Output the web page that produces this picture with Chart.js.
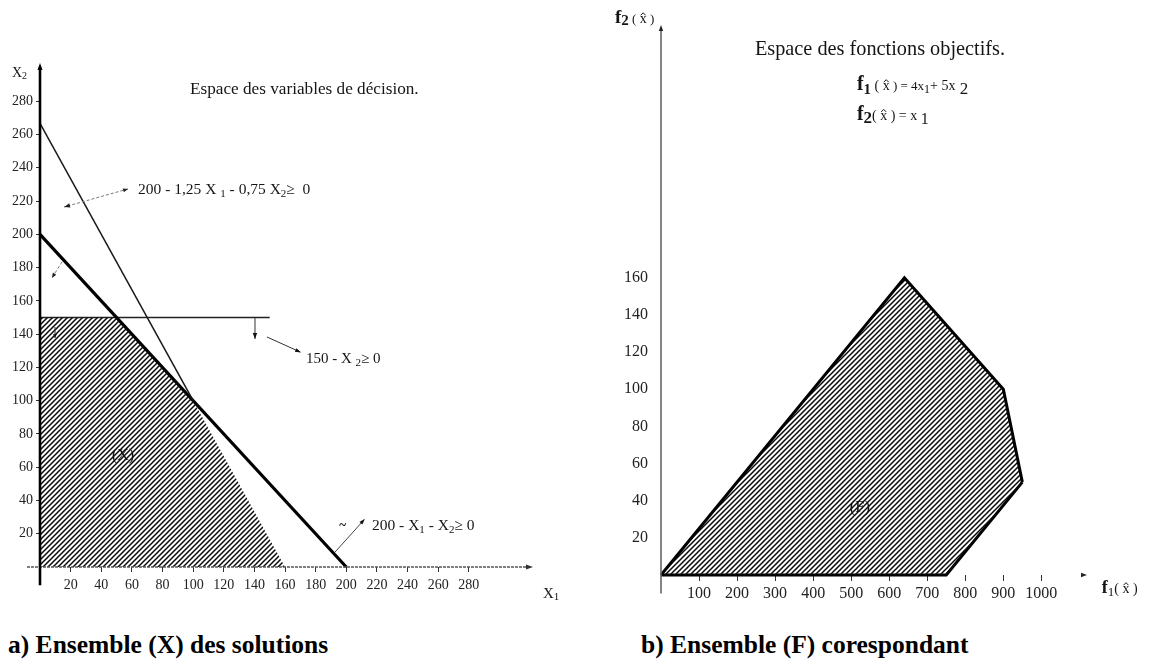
<!DOCTYPE html>
<html><head><meta charset="utf-8">
<script src="https://cdn.jsdelivr.net/npm/chart.js@4.4.1/dist/chart.umd.min.js"></script>
<style>
html,body{margin:0;padding:0;background:#fff;width:1149px;height:666px;overflow:hidden;}
#c1{position:absolute;left:0;top:0;}
#c2{position:absolute;left:570px;top:0;}
.cap{position:absolute;top:632px;font-family:"Liberation Serif","Times New Roman",serif;font-weight:bold;font-size:25.5px;color:#000;line-height:1;white-space:nowrap;}
</style></head><body>
<canvas id="c1" width="560" height="615"></canvas>
<canvas id="c2" width="579" height="615"></canvas>
<div class="cap" style="left:8px">a) Ensemble (X) des solutions</div>
<div class="cap" style="left:641px">b) Ensemble (F) corespondant</div>
<script>
// ---------- data: a) decision space ----------
const xTicksA = [20,40,60,80,100,120,140,160,180,200,220,240,260,280];
const yTicksA = [20,40,60,80,100,120,140,160,180,200,220,240,260,280];
const regionX1 = [0, 50, 100, 160];      // hatched set (X), upper boundary
const regionX2 = [150, 150, 100, 0];
const con1X1 = [0, 100];                  // 200 - 1,25 X1 - 0,75 X2 = 0 (drawn part)
const con1X2 = [266.7, 100];
const con2X1 = [0, 200];                  // 200 - X1 - X2 = 0
const con2X2 = [200, 0];
const con3X1 = [0, 150];                  // 150 - X2 = 0
const con3X2 = [150, 150];

// ---------- data: b) objective space ----------
const xTicksB = [100,200,300,400,500,600,700,800,900,1000];
const yTicksB = [20,40,60,80,100,120,140,160];
const fUpperF1 = [0, 640, 900, 950];      // set (F), upper boundary
const fUpperF2 = [0, 160, 100, 50];
const fLowerF1 = [0, 750, 950];           // set (F), lower boundary
const fLowerF2 = [0, 0, 50];

const SERIF = '"Liberation Serif","Times New Roman",serif';
const INK = '#151515';

function pts(xs, ys){ return xs.map((v,i)=>({x:v, y:ys[i]})); }

function hatch(){
  const s = 5, c = document.createElement('canvas');
  c.width = s; c.height = s;
  const g = c.getContext('2d');
  g.strokeStyle = '#0a0a0a'; g.lineWidth = 1.5;
  g.beginPath();
  g.moveTo(0, s); g.lineTo(s, 0);
  g.moveTo(-s/2, s/2); g.lineTo(s/2, -s/2);
  g.moveTo(s/2, s*1.5); g.lineTo(s*1.5, s/2);
  g.stroke();
  return g.createPattern(c, 'repeat');
}

function rich(ctx, x, y, parts, color){
  let cx = x;
  ctx.fillStyle = color || INK; ctx.textAlign = 'left'; ctx.textBaseline = 'alphabetic';
  for (const p of parts){
    ctx.font = (p.b ? 'bold ' : '') + p.s + 'px ' + SERIF;
    const yy = y + (p.dy || 0);
    ctx.fillText(p.t, cx, yy);
    const w = ctx.measureText(p.t).width;
    if (p.hat){
      ctx.save(); ctx.strokeStyle = color || INK; ctx.lineWidth = 1;
      const mx = cx + w/2;
      ctx.beginPath();
      ctx.moveTo(mx-2.5, yy-p.s*0.56); ctx.lineTo(mx, yy-p.s*0.74); ctx.lineTo(mx+2.5, yy-p.s*0.56);
      ctx.stroke(); ctx.restore();
    }
    cx += w;
  }
  return cx - x;
}
function head(ctx, x1, y1, x2, y2, len, wid){
  const a = Math.atan2(y2-y1, x2-x1), c = Math.cos(a), s = Math.sin(a);
  ctx.beginPath(); ctx.moveTo(x2, y2);
  ctx.lineTo(x2-len*c+wid*s, y2-len*s-wid*c);
  ctx.lineTo(x2-len*c-wid*s, y2-len*s+wid*c);
  ctx.closePath(); ctx.fill();
}
function seg(ctx, x1, y1, x2, y2){ ctx.beginPath(); ctx.moveTo(x1,y1); ctx.lineTo(x2,y2); ctx.stroke(); }

const annA = {
  id: 'annA',
  afterDraw(chart){
    const {ctx, scales:{x, y}} = chart;
    const X = v => x.getPixelForValue(v), Y = v => y.getPixelForValue(v);
    ctx.save();
    // axes
    ctx.strokeStyle = '#555'; ctx.lineWidth = 1.3; ctx.setLineDash([3,1]);
    seg(ctx, X(-8.5), Y(0), X(320), Y(0));
    ctx.setLineDash([]);
    ctx.fillStyle = '#333'; head(ctx, X(300), Y(0), X(320)+3, Y(0), 7, 2.5);
    ctx.strokeStyle = '#000'; ctx.lineWidth = 2.6;
    seg(ctx, X(0), Y(-11), X(0), Y(300));
    ctx.fillStyle = '#000'; head(ctx, X(0), Y(280), X(0), Y(300)-5, 7, 2.5);
    // axis names
    rich(ctx, X(-18.3), Y(294.6), [{t:'X', s:14}, {t:'2', s:10, dy:2}]);
    rich(ctx, X(328.5), Y(-18.6), [{t:'X', s:15}, {t:'1', s:11, dy:2}]);
    // title
    rich(ctx, X(98), Y(284.4), [{t:'Espace des variables de décision.', s:17.2}]);
    // constraint 1 label + dashed double arrow
    rich(ctx, X(64), Y(224.3), [{t:'200 - 1,25 X ', s:15.5}, {t:'1', s:11, dy:3}, {t:' - 0,75 X', s:15.5}, {t:'2', s:11, dy:3}, {t:'≥  0', s:15.5}]);
    ctx.strokeStyle = '#777'; ctx.fillStyle = '#222'; ctx.lineWidth = 1; ctx.setLineDash([3,2]);
    seg(ctx, X(57.5), Y(227.3), X(15.7), Y(216.4));
    seg(ctx, X(14.4), Y(183.4), X(7.8), Y(173.8));
    ctx.setLineDash([]);
    head(ctx, X(50), Y(225.3), X(57.5), Y(227.3), 5, 2);
    head(ctx, X(25), Y(218.8), X(15.7), Y(216.4), 6, 2.2);
    head(ctx, X(12), Y(180), X(7.8), Y(173.8), 5, 2);
    // constraint 3 label + arrows
    rich(ctx, X(173.7), Y(122.7), [{t:'150 - X ', s:15}, {t:'2', s:11, dy:3}, {t:'≥ 0', s:15}]);
    ctx.strokeStyle = '#333'; ctx.fillStyle = '#111'; ctx.lineWidth = 1;
    seg(ctx, X(148.2), Y(138.3), X(169.8), Y(129.3));
    head(ctx, X(148.2), Y(138.3), X(170.5), Y(129), 6, 2);
    seg(ctx, X(140.4), Y(150), X(140.4), Y(137.1));
    head(ctx, X(140.4), Y(150), X(140.4), Y(137.1), 6, 2.2);
    seg(ctx, X(9.8), Y(144.3), X(9.8), Y(137.7));
    head(ctx, X(9.8), Y(144.3), X(9.8), Y(137.7), 4, 1.8);
    // constraint 2 label + arrow
    rich(ctx, X(216.8), Y(22.2), [{t:'200 - X', s:15.5}, {t:'1', s:11, dy:3}, {t:' - X', s:15.5}, {t:'2', s:11, dy:3}, {t:'≥ 0', s:15.5}]);
    ctx.strokeStyle = '#444';
    seg(ctx, X(192.7), Y(9.0), X(211.6), Y(28.3));
    head(ctx, X(192.7), Y(9.0), X(212.2), Y(29), 6, 2);
    rich(ctx, X(195.5), Y(23), [{t:'~', s:13, b:true}]);
    // region label
    ctx.font = '16px ' + SERIF; ctx.textAlign = 'center'; ctx.fillStyle = '#111';
    ctx.fillText('(X)', X(54.2), Y(67.3) + 5);
    ctx.restore();
  }
};

const annB = {
  id: 'annB',
  afterDraw(chart){
    const {ctx, scales:{x, y}} = chart;
    const X = v => x.getPixelForValue(v), Y = v => y.getPixelForValue(v);
    ctx.save();
    ctx.strokeStyle = '#666'; ctx.lineWidth = 1.6;
    seg(ctx, X(0), Y(-10), X(0), Y(293));
    ctx.fillStyle = '#222';
    head(ctx, X(0), Y(280), X(0), Y(296), 6, 2.2);
    head(ctx, X(1100), Y(0), X(1120), Y(0), 6, 2.2);
    rich(ctx, X(-121), Y(297), [{t:'f', s:19, b:true}, {t:'2', s:15, b:true, dy:2}, {t:' ( ', s:13}, {t:'x', s:14, hat:true}, {t:' )', s:13}]);
    rich(ctx, X(247), Y(279.8), [{t:'Espace des fonctions objectifs.', s:20.3}]);
    rich(ctx, X(515), Y(261), [{t:'f', s:20, b:true}, {t:'1', s:15, b:true, dy:4}, {t:' ( ', s:14}, {t:'x', s:14, hat:true}, {t:' ) = 4x', s:13}, {t:'1', s:12, dy:3}, {t:'+ 5x', s:14}, {t:' 2', s:17, dy:4}]);
    rich(ctx, X(515), Y(245), [{t:'f', s:20, b:true}, {t:'2', s:17, b:true, dy:3}, {t:'( ', s:14}, {t:'x', s:14, hat:true}, {t:' ) = x ', s:14}, {t:'1', s:16, dy:4}]);
    rich(ctx, X(1159), Y(-9.7), [{t:'f', s:18, b:true}, {t:'1', s:13, dy:3}, {t:'( ', s:14}, {t:'x', s:14, hat:true}, {t:' )', s:14}]);
    ctx.font = '16.5px ' + SERIF; ctx.textAlign = 'center'; ctx.fillStyle = '#111';
    ctx.fillText('(F)', X(523), Y(36.6) + 5);
    ctx.restore();
  }
};

const tickFontA = {family: SERIF, size: 14};
const tickFontB = {family: SERIF, size: 16};
const plain = v => String(v);

new Chart(document.getElementById('c1'), {
  type: 'line',
  data: { datasets: [
    {data: pts(regionX1, regionX2), fill: 'origin', backgroundColor: hatch(), borderWidth: 0, pointRadius: 0},
    {data: pts(con1X1, con1X2), fill: false, borderColor: '#1a1a1a', borderWidth: 1.5, pointRadius: 0, clip: false},
    {data: pts(con2X1, con2X2), fill: false, borderColor: '#000', borderWidth: 3.2, pointRadius: 0, clip: false},
    {data: pts(con3X1, con3X2), fill: false, borderColor: '#222', borderWidth: 1.5, pointRadius: 0, clip: false}
  ]},
  options: {
    responsive: false, animation: false, events: [],
    layout: {padding: {top: 68, right: 30, left: 0, bottom: 0}},
    plugins: {legend: {display: false}, tooltip: {enabled: false}},
    scales: {
      x: {type: 'linear', min: 0, max: 320,
          afterBuildTicks: s => { s.ticks = xTicksA.map(v => ({value: v})); },
          afterFit: s => { s.height = 48; },
          grid: {drawOnChartArea: false, drawTicks: true, tickLength: 5, color: '#333'},
          border: {display: false},
          ticks: {font: tickFontA, color: '#222', padding: 5, maxRotation: 0, autoSkip: false, callback: plain}},
      y: {type: 'linear', min: 0, max: 300,
          afterBuildTicks: s => { s.ticks = yTicksA.map(v => ({value: v})); },
          afterFit: s => { s.width = 40; },
          grid: {drawOnChartArea: false, drawTicks: true, tickLength: 4, color: '#333'},
          border: {display: false},
          ticks: {font: tickFontA, color: '#222', padding: 3, autoSkip: false, callback: plain}}
    }
  },
  plugins: [annA]
});

new Chart(document.getElementById('c2'), {
  type: 'line',
  data: { datasets: [
    {data: pts(fUpperF1, fUpperF2), fill: '+1', backgroundColor: hatch(), borderColor: '#000', borderWidth: 3, pointRadius: 0, clip: false},
    {data: pts(fLowerF1, fLowerF2), fill: false, borderColor: '#000', borderWidth: 3, pointRadius: 0, clip: false}
  ]},
  options: {
    responsive: false, animation: false, events: [],
    layout: {padding: {top: 25, right: 62, left: 0, bottom: 0}},
    plugins: {legend: {display: false}, tooltip: {enabled: false}},
    scales: {
      x: {type: 'linear', min: 0, max: 1120,
          afterBuildTicks: s => { s.ticks = xTicksB.map(v => ({value: v})); },
          afterFit: s => { s.height = 40; },
          grid: {drawOnChartArea: false, drawTicks: true, tickLength: 6, color: '#333'},
          border: {display: false},
          ticks: {font: tickFontB, color: '#222', padding: 3, maxRotation: 0, autoSkip: false, callback: plain}},
      y: {type: 'linear', min: 0, max: 296,
          afterBuildTicks: s => { s.ticks = yTicksB.map(v => ({value: v})); },
          afterFit: s => { s.width = 91; },
          grid: {display: false, drawTicks: false},
          border: {display: false},
          ticks: {font: tickFontB, color: '#222', padding: 13, autoSkip: false, callback: plain}}
    }
  },
  plugins: [annB]
});
</script>
</body></html>
